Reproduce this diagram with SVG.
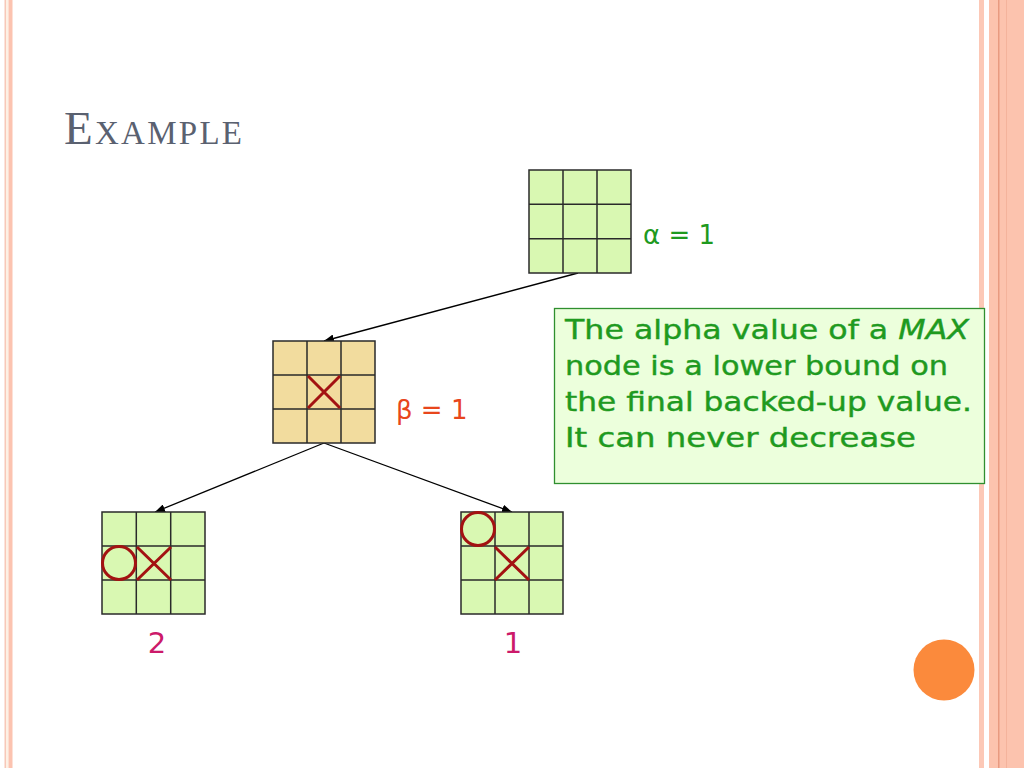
<svg xmlns="http://www.w3.org/2000/svg" width="1024" height="768" viewBox="0 0 1024 768">
<defs>
<style>
.grid-g{fill:#d9f8b2;stroke:#2a2a2a;stroke-width:1.5}
.grid-t{fill:#f2dc9e;stroke:#2a2a2a;stroke-width:1.5}
.gl{stroke:#2a2a2a;stroke-width:1.5;fill:none}
.mark{stroke:#a31212;stroke-width:3;fill:none}
.conn{stroke:#000;stroke-width:1.3;fill:none;marker-end:url(#arr)}
.lbl{font-family:"DejaVu Sans","Liberation Sans",sans-serif;font-size:26px}
.num{font-family:"DejaVu Sans","Liberation Sans",sans-serif;font-size:29px}
.box{font-family:"DejaVu Sans","Liberation Sans",sans-serif;font-size:26.5px;fill:#1f9a1f;stroke:#1f9a1f;stroke-width:0.4}
</style>
<marker id="arr" viewBox="0 0 10 8" refX="10" refY="4" markerWidth="10" markerHeight="8" markerUnits="userSpaceOnUse" orient="auto">
<path d="M0,0 L10,4 L0,8 z" fill="#000"/>
</marker>
</defs>
<rect width="1024" height="768" fill="#fff"/>
<g id="borders">
<rect x="4.5" y="0" width="1.5" height="768" fill="#f7c8b8"/>
<rect x="6" y="0" width="2.5" height="768" fill="#fdf0e4"/>
<rect x="8.5" y="0" width="4" height="768" fill="#fcc3b0"/>
<rect x="979" y="0" width="5" height="768" fill="#fcc8b6"/>
<rect x="989" y="0" width="35" height="768" fill="#fcc3ae"/>
<rect x="998" y="0" width="1.5" height="768" fill="#e89a80"/>
<rect x="1006" y="0" width="1" height="768" fill="#f4b39c"/>
</g>
<text id="title" x="64" y="144" font-family="Liberation Serif, serif" fill="#5a6170" textLength="178" lengthAdjust="spacing"><tspan font-size="47">E</tspan><tspan font-size="33">XAMPLE</tspan></text>
<g id="connectors">
<line class="conn" x1="578" y1="273" x2="324" y2="341"/>
<line class="conn" x1="324" y1="443" x2="155" y2="512"/>
<line class="conn" x1="324" y1="443" x2="512" y2="512"/>
</g>
<g id="root">
<rect class="grid-g" x="529" y="170" width="102" height="103"/>
<path class="gl" d="M563,170V273M597,170V273M529,204.3H631M529,238.7H631"/>
<text class="lbl" x="643" y="244" fill="#1f9a1f">α = 1</text>
</g>
<g id="mid">
<rect class="grid-t" x="273" y="341" width="102" height="102"/>
<path class="gl" d="M307,341V443M341,341V443M273,375H375M273,409H375"/>
<path class="mark" d="M308,376L340,408M340,376L308,408"/>
<text class="lbl" x="396" y="419" fill="#e8461c">β = 1</text>
</g>
<g id="left">
<rect class="grid-g" x="102" y="512" width="103" height="102"/>
<path class="gl" d="M136.3,512V614M170.7,512V614M102,546H205M102,580H205"/>
<circle class="mark" cx="119" cy="563" r="16.5"/>
<path class="mark" d="M137,547L171,580M171,547L137,580"/>
<text class="num" x="157" y="653" text-anchor="middle" fill="#cc1a6a">2</text>
</g>
<g id="right">
<rect class="grid-g" x="461" y="512" width="102" height="102"/>
<path class="gl" d="M495,512V614M529,512V614M461,546H563M461,580H563"/>
<circle class="mark" cx="478" cy="529" r="16.5"/>
<path class="mark" d="M495,547L529,580M529,547L495,580"/>
<text class="num" x="513" y="653" text-anchor="middle" fill="#cc1a6a">1</text>
</g>
<g id="note">
<rect x="554.5" y="308.5" width="430" height="175" fill="#ecffdc" stroke="#2f8f2f" stroke-width="1.3"/>
<text class="box" x="565" y="339" textLength="404" lengthAdjust="spacingAndGlyphs">The alpha value of a <tspan font-style="italic">MAX</tspan></text>
<text class="box" x="565" y="375" textLength="383" lengthAdjust="spacingAndGlyphs">node is a lower bound on</text>
<text class="box" x="565" y="411" textLength="407" lengthAdjust="spacingAndGlyphs">the final backed-up value.</text>
<text class="box" x="565" y="447" textLength="351" lengthAdjust="spacingAndGlyphs">It can never decrease</text>
</g>
<circle id="dot" cx="944" cy="670" r="30.5" fill="#fb8a3c"/>
</svg>
